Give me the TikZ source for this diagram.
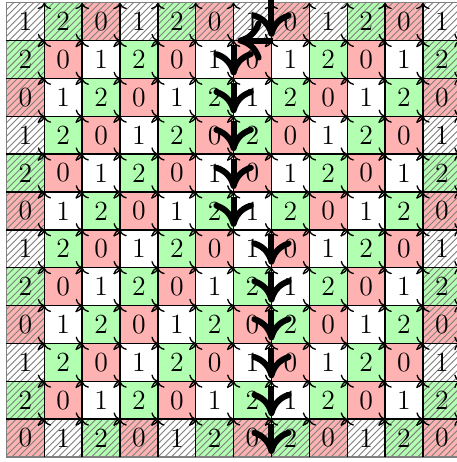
\documentclass[tikz,border=0pt]{standalone}
\usetikzlibrary{patterns,arrows.meta}
\colorlet{col0}{red!30}
\colorlet{col1}{white}
\colorlet{col2}{green!30}
\begin{document}
\begin{tikzpicture}[x=0.6cm,y=0.6cm,
  cellval/.style={inner sep=0pt, font=\fontsize{12.5}{14}\selectfont},
  hatchcell/.style={pattern=north east lines, pattern color=gray},
  gridarrow/.style={->, line width=0.6pt},
  wallarrow/.style={-{To[scale length=1.45, scale width=1.15]}, line width=2.7pt},
  outerframe/.style={draw=gray, line width=0.5pt}]
\useasboundingbox (-0.170,-0.132) rectangle (11.877,12.071);
% grid points
\foreach \i in {0,...,12}{
  \foreach \j in {0,...,12}{
    \coordinate (p-\i-\j) at (\i,\j);
  }
}
% cells
\foreach \r in {0,...,11}{
  \pgfmathtruncatemacro{\w}{\r==0 ? 7 : (\r<6 ? 6 : 7)}
  \foreach \c in {0,...,11}{
    \pgfmathtruncatemacro{\v}{mod(\c+\r+1+(\c>=\w ? 1 : 0),3)}
    \pgfmathtruncatemacro{\b}{(\r==0 || \r==11 || \c==0 || \c==11) ? 1 : 0}
    \pgfmathtruncatemacro{\yb}{11-\r}
    \pgfmathtruncatemacro{\yt}{12-\r}
    \pgfmathtruncatemacro{\cr}{\c+1}
    \fill[col\v] (p-\c-\yb) rectangle (p-\cr-\yt);
    \ifnum\b=1
      \fill[hatchcell] (p-\c-\yb) rectangle (p-\cr-\yt);
    \fi
    \node[cellval] (n-\c-\r) at (\c+0.5,11.5-\r) {\v};
  }
}
% outer frame
\draw[outerframe] (p-0-0) rectangle (p-12-12);
% vertical edges (pointing up)
\foreach \x in {1,...,11}{
  \foreach \y in {0,...,11}{
    \pgfmathtruncatemacro{\yy}{\y+1}
    \draw[gridarrow] (p-\x-\y) -- (p-\x-\yy);
  }
}
% horizontal edges (pointing right)
\foreach \y in {1,...,11}{
  \foreach \x in {0,...,11}{
    \pgfmathtruncatemacro{\xx}{\x+1}
    \draw[gridarrow] (p-\x-\y) -- (p-\xx-\y);
  }
}
% domain wall
\coordinate (ws-0) at (7,12.2);
\coordinate (we-0) at (7,11.1);
\draw[wallarrow] (ws-0) -- (we-0);
\coordinate (hs) at (7.05,11);
\coordinate (he) at (6.1,11);
\draw[wallarrow] (hs) -- (he);
\foreach \r in {1,...,11}{
  \pgfmathtruncatemacro{\w}{\r<6 ? 6 : 7}
  \coordinate (ws-\r) at (\w,12-\r-0.12);
  \coordinate (we-\r) at (\w,11-\r+0.08);
  \draw[wallarrow] (ws-\r) -- (we-\r);
}
\end{tikzpicture}
\end{document}
